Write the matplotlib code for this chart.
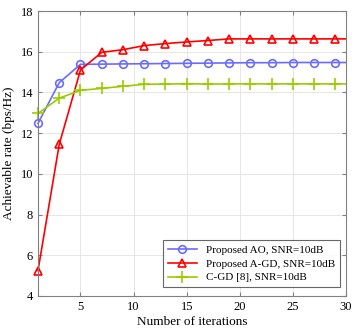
import numpy as np
import matplotlib.pyplot as plt

plt.rcParams['font.family'] = ['Liberation Serif', 'DejaVu Serif']

# iterations (markers drawn on odd ones, line runs to 30)
iters = [1, 3, 5, 7, 9, 11, 13, 15, 17, 19, 21, 23, 25, 27, 29, 30]
rate_ao = [12.48, 14.48, 15.38, 15.39, 15.40, 15.41, 15.42, 15.43, 15.44, 15.45,
           15.46, 15.46, 15.47, 15.47, 15.47, 15.47]
rate_agd = [5.25, 11.45, 15.1, 15.97, 16.1, 16.3, 16.4, 16.48, 16.55, 16.63,
            16.63, 16.63, 16.63, 16.63, 16.63, 16.63]
rate_cgd = [12.97, 13.72, 14.1, 14.2, 14.3, 14.4, 14.41, 14.43, 14.41, 14.42,
            14.42, 14.42, 14.42, 14.42, 14.42, 14.42]

labels = ['Proposed AO, SNR=10dB', 'Proposed A-GD, SNR=10dB', 'C-GD [8], SNR=10dB']

fig = plt.figure(figsize=(3.57, 3.32), dpi=100)
ax = fig.add_axes([38/357, 1 - 296/332, 308/357, 285/332])

mk = list(range(len(iters) - 1))
ax.plot(iters, rate_ao, color='#6b6bff', lw=1.2, marker='o', ms=5.5, mfc='none',
        mew=1.2, markevery=mk, label=labels[0], clip_on=False)
ax.plot(iters, rate_agd, color='#ff0000', lw=1.2, marker='^', ms=6, mfc='none',
        mew=1.2, markevery=mk, label=labels[1], clip_on=False)
ax.plot(iters, rate_cgd, color='#99cc00', lw=1.2, marker='+', ms=8, mfc='none',
        mew=1.2, markevery=mk, label=labels[2], clip_on=False)

ax.set_xlim(1, 30)
ax.set_ylim(4, 18)
ax.set_xticks([5, 10, 15, 20, 25, 30])
ax.set_yticks([4, 6, 8, 10, 12, 14, 16, 18])
ax.grid(True, color='#e6e6e6', lw=0.7)
ax.set_axisbelow(True)
ax.tick_params(direction='in', top=True, right=True, labelsize=9, length=3,
               color='#808080')
for s in ax.spines.values():
    s.set_color('#808080')
    s.set_linewidth(0.8)

ax.set_xlabel('Number of iterations', fontsize=9.5, labelpad=2)
ax.set_ylabel('Achievable rate (bps/Hz)', fontsize=9.5, labelpad=4)

leg = ax.legend(loc='lower right', fontsize=8, frameon=True, fancybox=False,
                edgecolor='#404040', handlelength=2.6, borderpad=0.45,
                labelspacing=0.35, borderaxespad=0, bbox_to_anchor=(0.98, 0.03))
leg.get_frame().set_linewidth(0.8)

fig.savefig('out.png', dpi=100)
